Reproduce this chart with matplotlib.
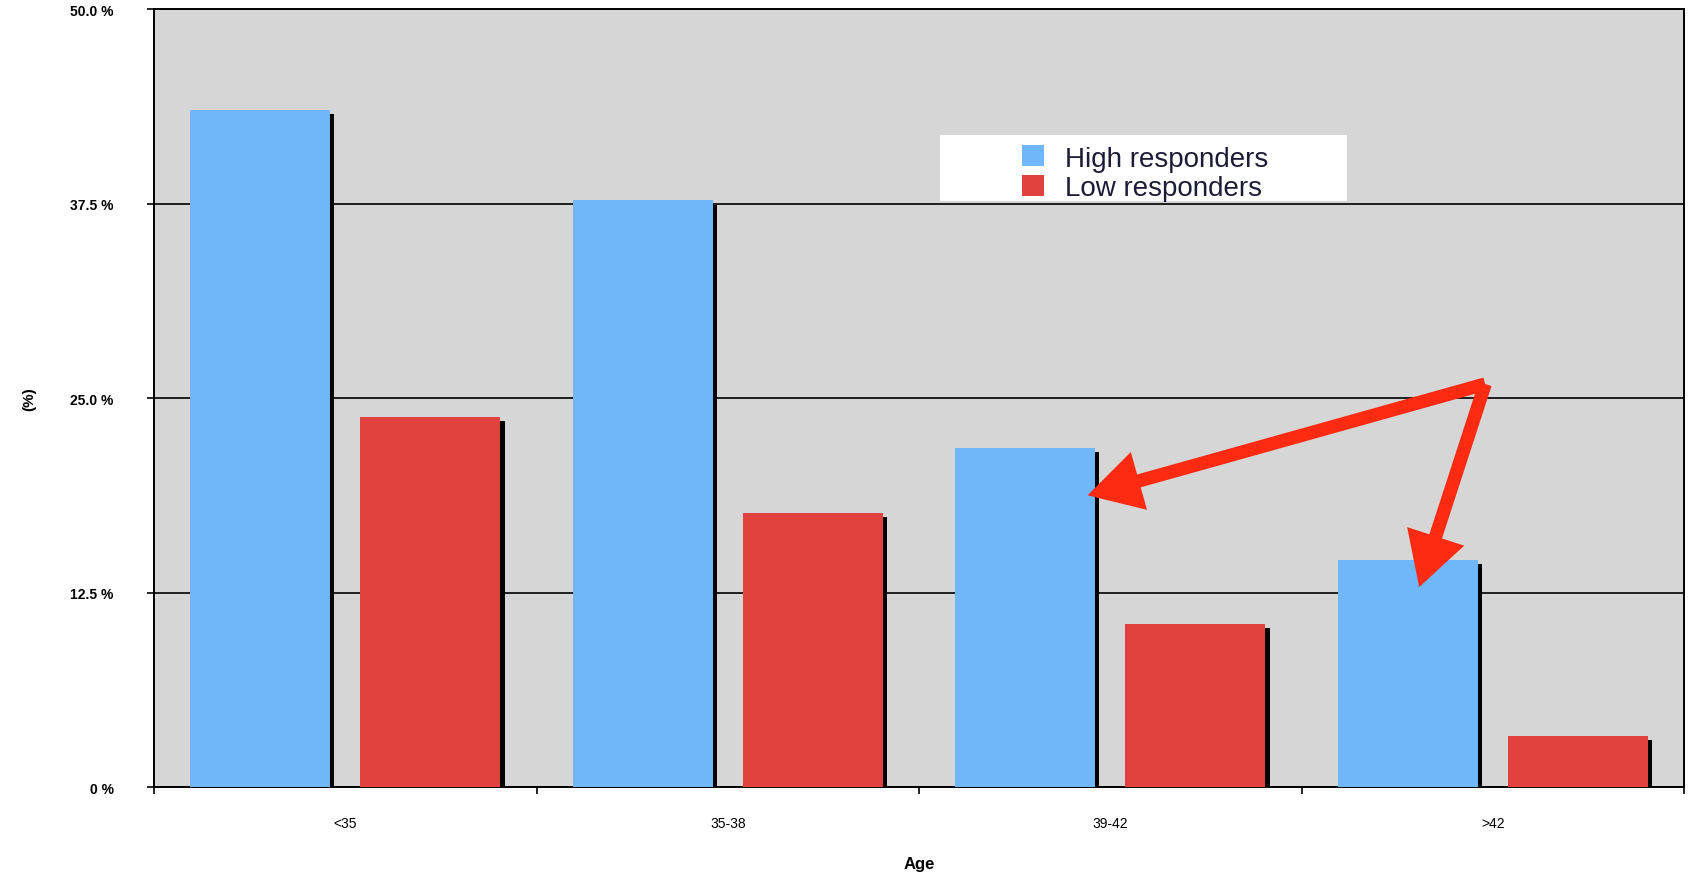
import numpy as np
import matplotlib
matplotlib.use("Agg")
import matplotlib.pyplot as plt
import matplotlib.patheffects as pe
from matplotlib.patches import Rectangle

# age groups and share of patients (%) in each responder class
age_groups = ["<35", "35-38", "39-42", ">42"]
high_responders = [43.5, 37.7, 21.8, 14.6]
low_responders = [23.8, 17.6, 10.5, 3.3]
y_ticks = [0, 12.5, 25.0, 37.5, 50.0]
y_tick_labels = ["0 %", "12.5 %", "25.0 %", "37.5 %", "50.0 %"]

# annotation arrows: start point, and where on each highlighted bar they land
arrow_origin = (2.98, 25.9)

plt.rcParams['font.family'] = ['Liberation Sans', 'DejaVu Sans']

blue = '#70b6fa'
red = '#e1423d'
bar_w = 0.366
offset = 0.2225

fig = plt.figure(figsize=(16.91, 8.79), dpi=100)
ax = fig.add_axes([0.0911, 0.1035, 0.9048, 0.8851])
ax.set_facecolor('#d6d6d6')

x = np.arange(len(age_groups))
b1 = ax.bar(x - offset, high_responders, width=bar_w, color=blue, zorder=3,
            label='High responders')
b2 = ax.bar(x + offset, low_responders, width=bar_w, color=red, zorder=3,
            label='Low responders')

ax.set_xlim(-0.5, len(age_groups) - 0.5)
ax.set_ylim(0, 50)

# grid lines at the inner y ticks
ax.set_yticks(y_ticks)
ax.set_yticklabels(y_tick_labels, fontsize=10, fontweight='bold')
ax.yaxis.grid(True, color='black', linewidth=1.2, zorder=1)
ax.set_axisbelow(True)
ax.tick_params(axis='y', direction='out', length=5, width=1.2, pad=24)

# group boundaries as ticks, labels centred in each group
ax.set_xticks(np.arange(len(age_groups) + 1) - 0.5)
ax.set_xticklabels([])
ax.set_xticks(x, minor=True)
ax.set_xticklabels(age_groups, minor=True, fontsize=10)
ax.tick_params(axis='x', which='major', direction='out', length=5, width=1.2)
ax.tick_params(axis='x', which='minor', length=0, pad=21)

for s in ax.spines.values():
    s.set_linewidth(1.4)
    s.set_color('black')

ax.set_ylabel('(%)', fontsize=11, fontweight='bold')
ax.yaxis.set_label_coords(-0.077, 0.5)
ax.set_xlabel('Age', fontsize=12, fontweight='bold')
ax.xaxis.set_label_coords(0.5, -0.089)

# white legend panel
ax.add_patch(Rectangle((0.514, 0.753), 0.266, 0.085, transform=ax.transAxes,
                       facecolor='white', edgecolor='none', zorder=2))
leg = ax.legend(loc='center left', bbox_to_anchor=(0.567, 0.789), frameon=False,
                fontsize=20, handlelength=0.8, handleheight=0.8, handletextpad=0.75,
                labelspacing=0.12, borderpad=0, borderaxespad=0)
for t in leg.get_texts():
    t.set_color('#1c1c38')

# drop shadow on the bars only (after the legend so its swatches stay flat)
shadow = [pe.SimplePatchShadow(offset=(3, -3), shadow_rgbFace='black', alpha=1.0), pe.Normal()]
for bar in list(b1) + list(b2):
    bar.set_path_effects(shadow)

# arrows pointing at the two older age groups
targets = [
    (x[2] - offset + bar_w / 2 - 0.02, high_responders[2] * 0.86),
    (x[3] - offset + 0.03, high_responders[3] * 0.88),
]
for tx, ty in targets:
    ax.annotate('', xy=(tx, ty), xytext=arrow_origin,
                arrowprops=dict(arrowstyle='simple,head_length=2.4,head_width=2.7,tail_width=0.6',
                                mutation_scale=16, color='#ff2a12', lw=0,
                                shrinkA=0, shrinkB=0),
                zorder=5)

fig.savefig('out.png', dpi=100, facecolor='white')
